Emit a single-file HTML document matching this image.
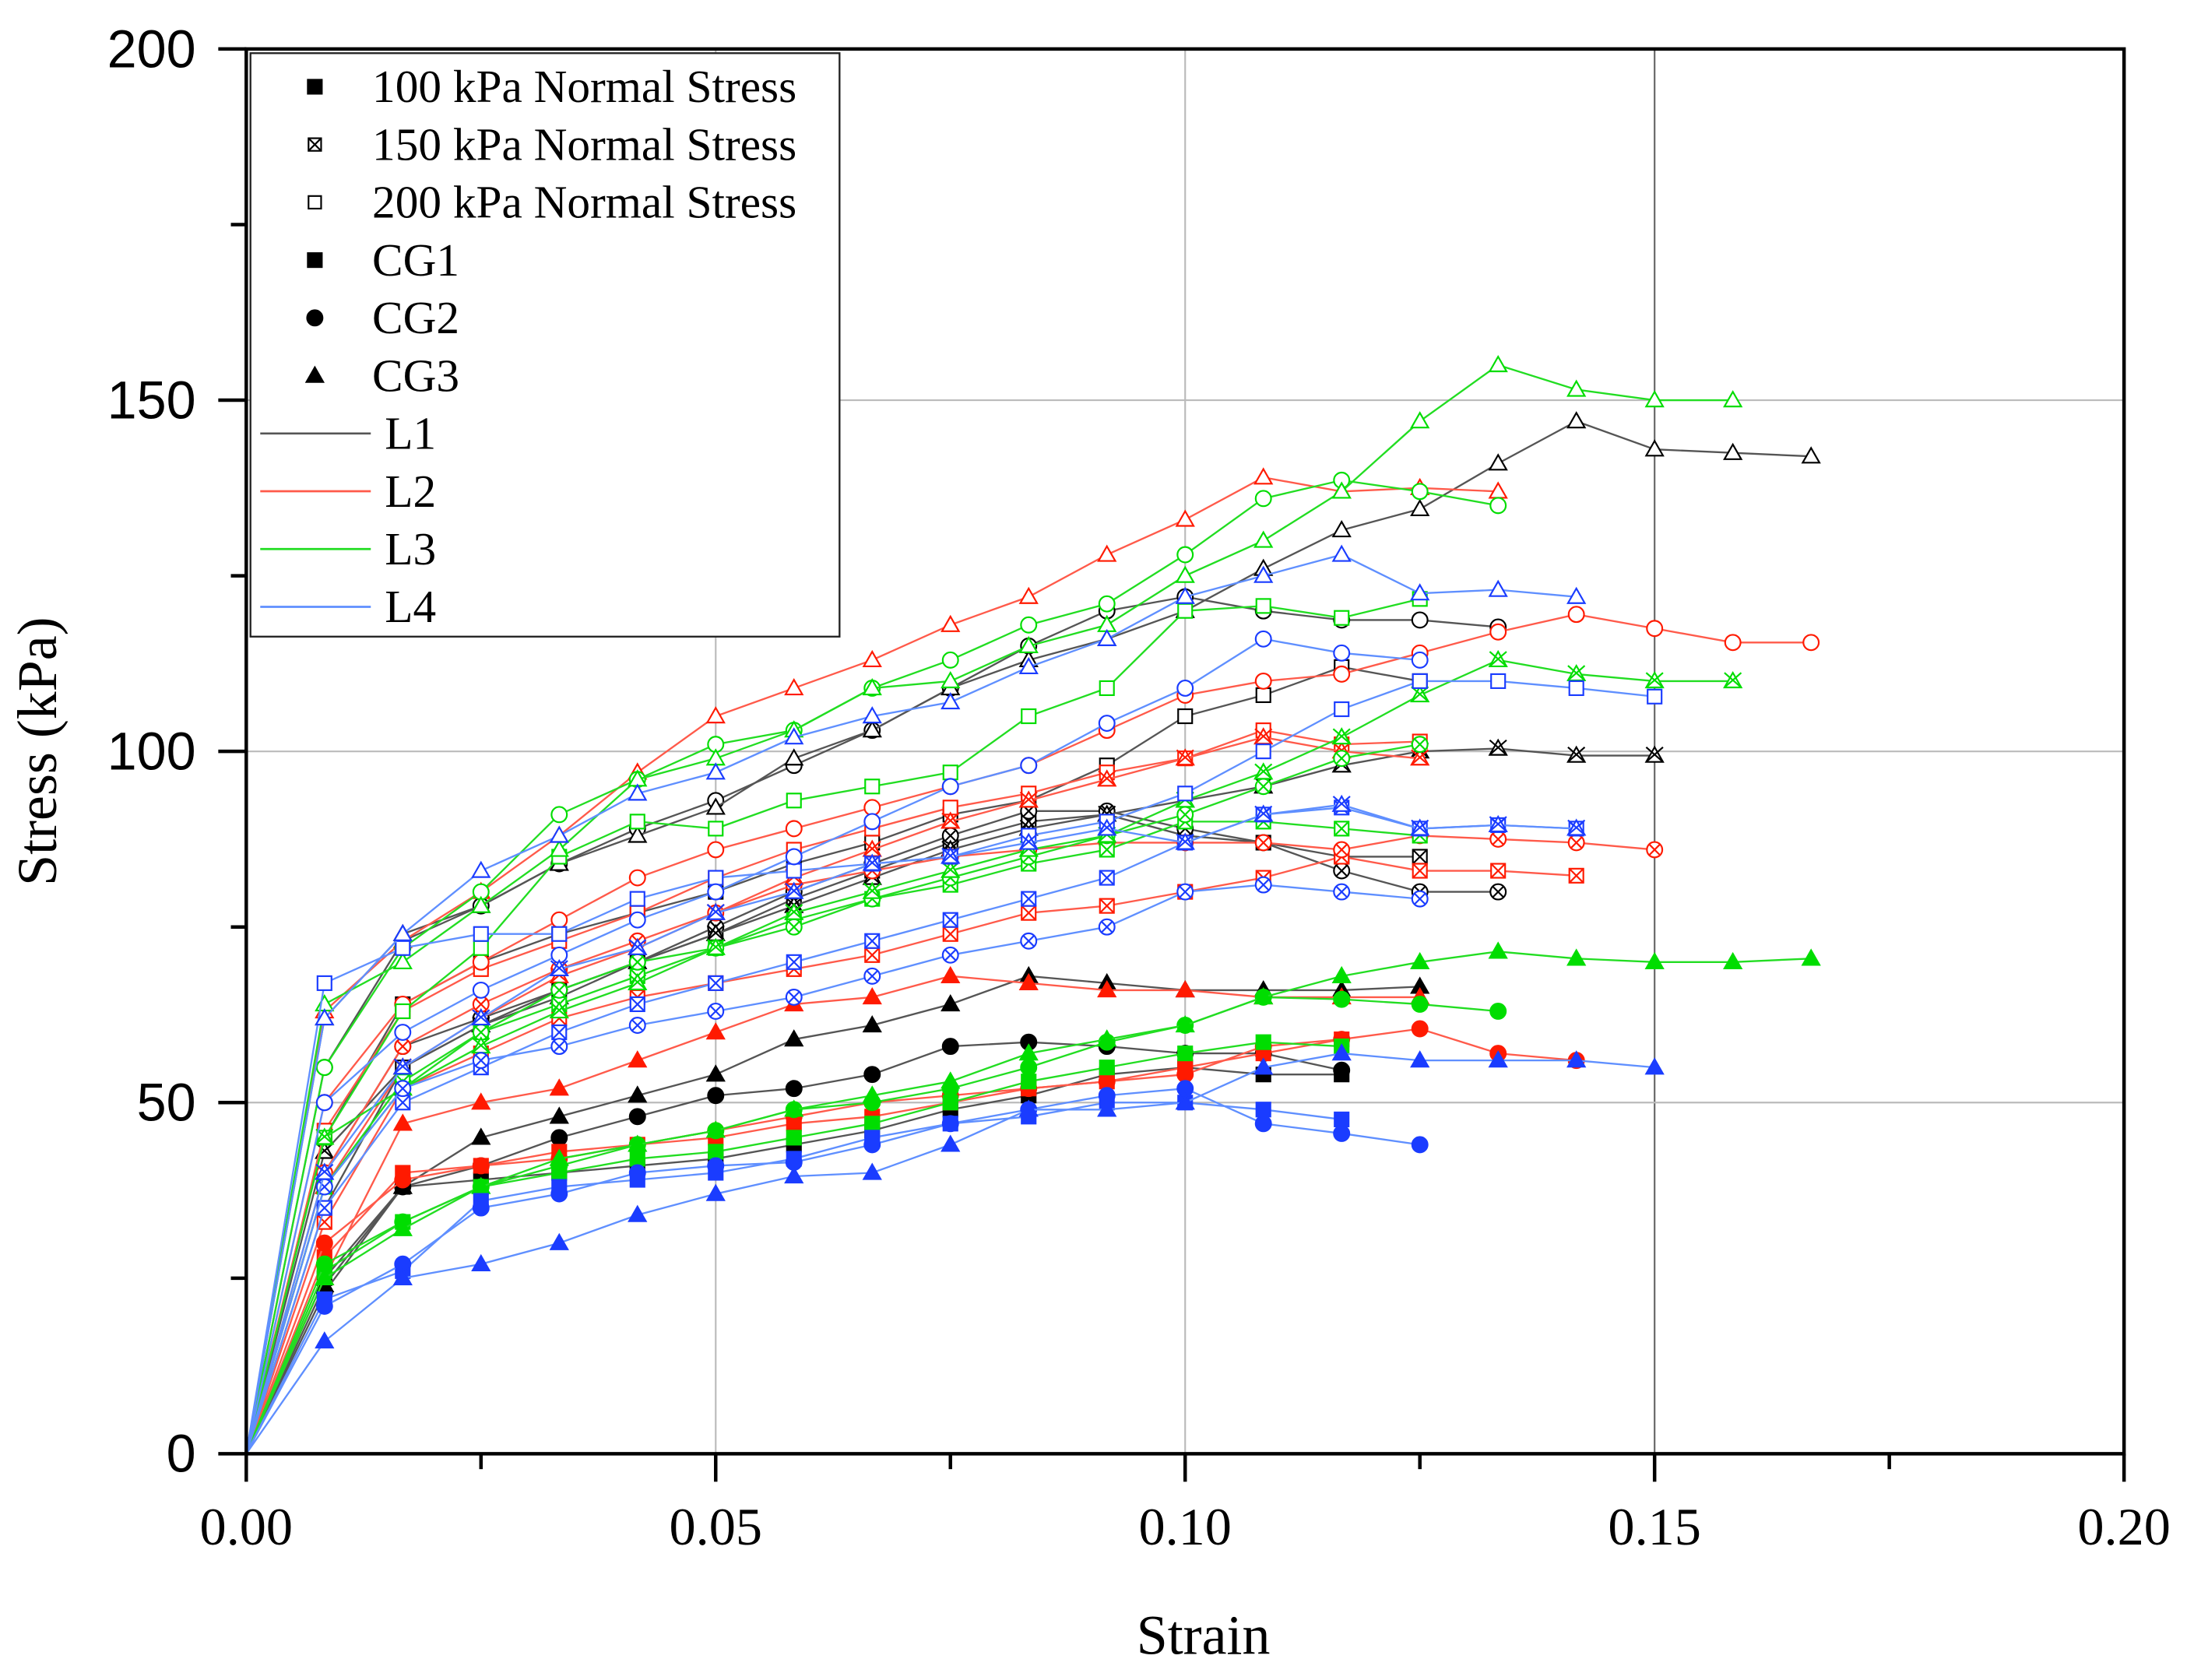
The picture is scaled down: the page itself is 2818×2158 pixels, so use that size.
<!DOCTYPE html>
<html><head><meta charset="utf-8"><style>
html,body{margin:0;padding:0;background:#fff}
svg{display:block}
.ax{font-family:"Liberation Sans",sans-serif;font-size:38px}
.sr{font-family:"Liberation Serif",serif}
</style></head><body>
<svg id="chart" width="2818" height="2158" viewBox="0 0 1568 1200.7" preserveAspectRatio="none" xmlns="http://www.w3.org/2000/svg">
<g id="grid"></g>
<g id="series"></g>
<g id="axes"></g>
<g id="legend"></g>
<text class="sr" x="860" y="1182" font-size="40" text-anchor="middle">Strain</text>
<text class="sr" x="0" y="0" font-size="40" text-anchor="middle" transform="translate(40,537) rotate(-90)">Stress (kPa)</text>
</svg>
<script>
// ---- data (stress in kPa at strain steps of 1/120) ----
const strainStep = 1/120;
const xTicks = [0, 0.05, 0.10, 0.15, 0.20];
const xTickLabels = ["0.00","0.05","0.10","0.15","0.20"];
const yTicks = [0, 50, 100, 150, 200];
const yTickLabels = ["0","50","100","150","200"];
const lineNames = ["L1","L2","L3","L4"];
const cgNames = ["CG1","CG2","CG3"];
const stressNames = ["100 kPa Normal Stress","150 kPa Normal Stress","200 kPa Normal Stress"];

const L1_CG1_100 = [0,25,38,39,40,41,42,44,46,49,51,54,55,54,54];
const L1_CG1_150 = [0,35,55,61,66,70,74,79,83,87,90,91,88,87,85,85];
const L1_CG1_200 = [0,45,64,70,74,77,80,84,87,91,93,98,105,108,112,110];
const L1_CG2_100 = [0,23,38,41,45,48,51,52,54,58,58.6,58,57,57,54.6];
const L1_CG2_150 = [0,40,58,62,66,70,75,80,84,88,91.5,91.5,89,87,83,80,80];
const L1_CG2_200 = [0,55,73,78,84,89,93,98,103,109,115,120,122,120,118.7,118.7,117.7];
const L1_CG3_100 = [0,24,38,45,48,51,54,59,61,64,68,67,66,66,66,66.5];
const L1_CG3_150 = [0,43,55,61,65,70,74,78,82,86,89,91,93,95,98,100,100.4,99.4,99.4];
const L1_CG3_200 = [0,62,74,78,84,88,92,99,103,109,113,116,120,126,131.5,134.5,141,147,143,142.5,142];

const L2_CG1_100 = [0,28,40,41,43,44,45,47,48,50,52,53,55,57,59];
const L2_CG1_150 = [0,33,52,57,62,65,67,69,71,74,77,78,80,82,85,83,83,82.3];
const L2_CG1_200 = [0,46,63,69,73,77,82,86,89,92,94,97,99,103,101,101.4];
const L2_CG2_100 = [0,30,39,41,42,44,46,48,50,51,52,53,54,58,59,60.5,57,56];
const L2_CG2_150 = [0,40,58,64,69,73,77,81,83,85,86,87,87,87,86,88,87.5,87,86];
const L2_CG2_200 = [0,50,64,70,76,82,86,89,92,95,98,103,108,110,111,114,117,119.5,117.5,115.5,115.5];
const L2_CG3_100 = [0,25,47,50,52,56,60,64,65,68,67,66,66,65,65,65];
const L2_CG3_150 = [0,38,55,62,68,72,77,82,86,90,93,96,99,102,100,99];
const L2_CG3_200 = [0,63,73,80,88,97,105,109,113,118,122,128,133,139,137,137.5,137];

const L3_CG1_100 = [0,26,33,38,40,42,43,45,47,50,53,55,57,58.6,58];
const L3_CG1_150 = [0,38,53,60,64,68,72,76,79,81,84,86,90,90,89,88];
const L3_CG1_200 = [0,45,63,72,85,90,89,93,95,97,105,109,120,120.7,119,121.7];
const L3_CG2_100 = [0,27,33,38,41,44,46,49,50,52,55,58.6,61,65,64.7,64,63];
const L3_CG2_150 = [0,38,52,60,66,70,72,75,79,82,85,88,91,95,99,101];
const L3_CG2_200 = [0,55,72,80,91,96,101,103,109,113,118,121,128,136,138.6,137,135];
const L3_CG3_100 = [0,25,32,38,42,44,46,49,51,53,57,59,61,65,68,70,71.5,70.5,70,70,70.5];
const L3_CG3_150 = [0,45,52,58,63,67,72,77,80,83,86,88,93,97,102,108,113,111,110,110];
const L3_CG3_200 = [0,64,70,78,86,96,99,103,109,110,115,118,125,130,137,147,155,151.5,150,150];

const L4_CG1_100 = [0,22,26,36,38,39,40,42,45,47,48,50,50,49,47.6];
const L4_CG1_150 = [0,35,50,55,60,64,67,70,73,76,79,82,87,91,92,89,89.5,89];
const L4_CG1_200 = [0,67,72,74,74,79,82,83,84,85,88,90,94,100,106,110,110,109,107.8];
const L4_CG2_100 = [0,21,27,35,37,40,41,41.5,44,47,49,51,52,47,45.6,44];
const L4_CG2_150 = [0,38,52,56,58,61,63,65,68,71,73,75,80,81,80,79];
const L4_CG2_200 = [0,50,60,66,71,76,80,85,90,95,98,104,109,116,114,113];
const L4_CG3_100 = [0,16,25,27,30,34,37,39.5,40,44,49,49,50,55,57,56,56,56,55];
const L4_CG3_150 = [0,40,55,62,69,72,77,80,84,85,87,89,87,91,92.4,89,89.5,89];
const L4_CG3_200 = [0,62,74,83,88,94,97,102,105,107,112,116,122,125,128,122.5,123,122];

const seriesData = {
 L1:[[L1_CG1_100,L1_CG1_150,L1_CG1_200],[L1_CG2_100,L1_CG2_150,L1_CG2_200],[L1_CG3_100,L1_CG3_150,L1_CG3_200]],
 L2:[[L2_CG1_100,L2_CG1_150,L2_CG1_200],[L2_CG2_100,L2_CG2_150,L2_CG2_200],[L2_CG3_100,L2_CG3_150,L2_CG3_200]],
 L3:[[L3_CG1_100,L3_CG1_150,L3_CG1_200],[L3_CG2_100,L3_CG2_150,L3_CG2_200],[L3_CG3_100,L3_CG3_150,L3_CG3_200]],
 L4:[[L4_CG1_100,L4_CG1_150,L4_CG1_200],[L4_CG2_100,L4_CG2_150,L4_CG2_200],[L4_CG3_100,L4_CG3_150,L4_CG3_200]]
};
</script>
<script>
const NS="http://www.w3.org/2000/svg";
const X0=176,X1=1518,Y0=1039,Y1=35;
const sx=v=>X0+(v/0.2)*(X1-X0);
const sy=v=>Y0-(v/200)*(Y0-Y1);
function mk(tag,attrs,parent){const e=document.createElementNS(NS,tag);for(const k in attrs)e.setAttribute(k,attrs[k]);parent.appendChild(e);return e;}
const lineColor={L1:"#555555",L2:"#ff5a4a",L3:"#22dd22",L4:"#5f8fff"};
const markColor={L1:"#000000",L2:"#ff1a00",L3:"#00dd00",L4:"#1a3cff"};
const grid=document.getElementById('grid');
[0.05,0.10,0.15].forEach(v=>{const l=mk('line',{x1:sx(v),x2:sx(v),y1:Y0,y2:Y1,stroke:v===0.15?'#666':'#bbb','stroke-width':1.2},grid);

});
[50,100,150].forEach(v=>{const l=mk('line',{x1:X0,x2:X1,y1:sy(v),y2:sy(v),stroke:'#bbb','stroke-width':1.2},grid);

});

function marker(parent,cx,cy,cg,st,color,r){
  const g=mk('g',{},parent);
  const fill=st===0?color:'#fff';
  if(cg===0){mk('rect',{x:cx-r,y:cy-r,width:2*r,height:2*r,fill:fill,stroke:color,'stroke-width':1.2},g);
    if(st===1){mk('path',{d:`M${cx-r} ${cy-r}L${cx+r} ${cy+r}M${cx+r} ${cy-r}L${cx-r} ${cy+r}`,stroke:color,'stroke-width':1.2},g);}}
  else if(cg===1){mk('circle',{cx:cx,cy:cy,r:r*1.1,fill:fill,stroke:color,'stroke-width':1.2},g);
    if(st===1){const d=r*0.78;mk('path',{d:`M${cx-d} ${cy-d}L${cx+d} ${cy+d}M${cx+d} ${cy-d}L${cx-d} ${cy+d}`,stroke:color,'stroke-width':1.2},g);}}
  else{const h=r*1.2;mk('path',{d:`M${cx} ${cy-h}L${cx+h} ${cy+h*0.75}L${cx-h} ${cy+h*0.75}Z`,fill:fill,stroke:color,'stroke-width':1.2},g);
    if(st===1){mk('path',{d:`M${cx-h} ${cy-h}L${cx+h} ${cy+h*0.75}M${cx+h} ${cy-h}L${cx-h} ${cy+h*0.75}`,stroke:color,'stroke-width':1.2},g);}}
  return g;
}
const ser=document.getElementById('series');
lineNames.forEach(L=>{seriesData[L].forEach((cgArr,cg)=>{cgArr.forEach((vals,st)=>{
  const g=mk('g',{},ser);
  
  
  const pts=vals.map((v,i)=>`${sx(i*strainStep)},${sy(v)}`).join(' ');
  mk('polyline',{points:pts,fill:'none',stroke:lineColor[L],'stroke-width':1.3},g);
  vals.forEach((v,i)=>{if(i===0)return;const m=marker(g,sx(i*strainStep),sy(v),cg,st,markColor[L],5);
    
    });
});});});

const ax=document.getElementById('axes');
mk('rect',{x:X0,y:Y1,width:X1-X0,height:Y0-Y1,fill:'none',stroke:'#000','stroke-width':2.5},ax);
for(let v=0;v<=200.01;v+=25){const major=v%50===0;
  const t=mk('line',{x1:X0-(major?20:11),x2:X0,y1:sy(v),y2:sy(v),stroke:'#000','stroke-width':2.5},ax);
  
  }
for(let i=0;i<=8;i++){const v=i*0.025;const major=i%2===0;
  const t=mk('line',{x1:sx(v),x2:sx(v),y1:Y0,y2:Y0+(major?20:11),stroke:'#000','stroke-width':2.5},ax);
  
  }
yTicks.forEach((v,i)=>{const t=mk('text',{x:140,y:sy(v)+13,'text-anchor':'end',class:'ax'},ax);t.textContent=yTickLabels[i];
  
  });
xTicks.forEach((v,i)=>{const t=mk('text',{x:sx(v),y:1104,'text-anchor':'middle',class:'sr','font-size':38},ax);t.textContent=xTickLabels[i];
  
  });

const lg=document.getElementById('legend');
mk('rect',{x:179,y:38,width:421,height:417,fill:'#fff',stroke:'#222','stroke-width':1.3},lg);
const rowY=i=>62+i*41.3;
stressNames.forEach((n,i)=>{const g=mk('g',{},lg);
  
  
  marker(g,225,rowY(i),0,i,'#000',i===0?5:4.5);
  const t=mk('text',{x:266,y:rowY(i)+11,class:'sr','font-size':33},g);t.textContent=n;});
cgNames.forEach((n,i)=>{const g=mk('g',{},lg);
  
  
  marker(g,225,rowY(i+3),i,0,'#000',5);
  const t=mk('text',{x:266,y:rowY(i+3)+11,class:'sr','font-size':33},g);t.textContent=n;});
lineNames.forEach((n,i)=>{const g=mk('g',{},lg);
  
  
  mk('line',{x1:186,x2:265,y1:rowY(i+6),y2:rowY(i+6),stroke:lineColor[n],'stroke-width':1.5},g);
  const t=mk('text',{x:275,y:rowY(i+6)+11,class:'sr','font-size':33},g);t.textContent=n;});
</script>
</body></html>
